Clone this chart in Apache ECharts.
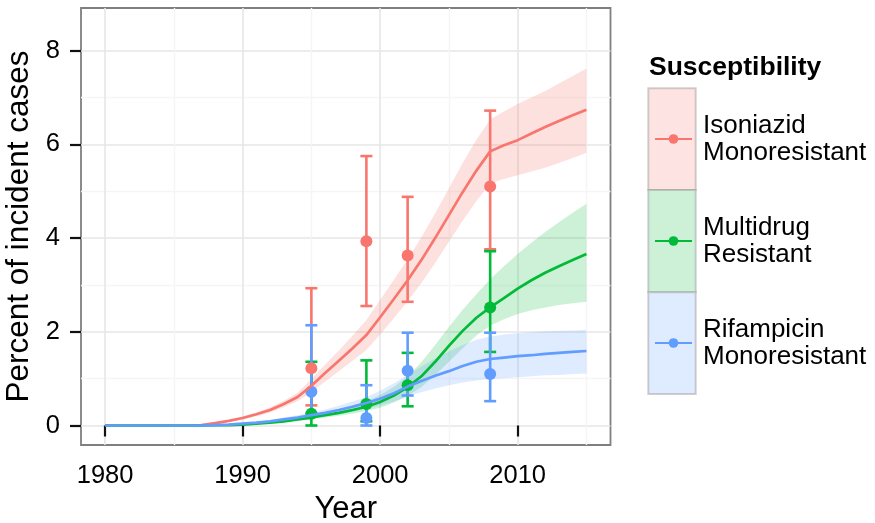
<!DOCTYPE html>
<html>
<head>
<meta charset="utf-8">
<script src="https://cdn.jsdelivr.net/npm/echarts@6/dist/echarts.min.js"></script>
<style>
  html, body { margin: 0; padding: 0; background: #ffffff; }
  #chart { width: 875px; height: 523px; }
</style>
</head>
<body>
<div id="chart"></div>
<script>
// ---- model fit (yearly), with 95% band ----
const modelYears = [1980, 1981, 1982, 1983, 1984, 1985, 1986, 1987, 1988, 1989,
  1990, 1991, 1992, 1993, 1994, 1995, 1996, 1997, 1998, 1999,
  2000, 2001, 2002, 2003, 2004, 2005, 2006, 2007, 2008, 2009,
  2010, 2011, 2012, 2013, 2014, 2015];

const isoniazidFit = [0, 0, 0, 0, 0, 0, 0, 0.01, 0.05, 0.10,
  0.16, 0.24, 0.33, 0.46, 0.61, 0.85, 1.12, 1.38, 1.65, 1.93,
  2.31, 2.70, 3.10, 3.53, 4.00, 4.49, 4.98, 5.44, 5.85, 5.98,
  6.09, 6.23, 6.37, 6.50, 6.62, 6.74];
const isoniazidLower = [0, 0, 0, 0, 0, 0, 0, 0, 0.04, 0.08,
  0.13, 0.20, 0.28, 0.39, 0.52, 0.71, 0.94, 1.16, 1.38, 1.61,
  1.94, 2.29, 2.65, 3.04, 3.47, 3.92, 4.37, 4.79, 5.17, 5.26,
  5.34, 5.42, 5.50, 5.60, 5.71, 5.82];
const isoniazidUpper = [0, 0, 0, 0, 0, 0, 0, 0.02, 0.06, 0.12,
  0.19, 0.28, 0.39, 0.53, 0.70, 0.99, 1.30, 1.60, 1.92, 2.25,
  2.68, 3.11, 3.55, 4.02, 4.53, 5.06, 5.60, 6.10, 6.53, 6.70,
  6.86, 7.00, 7.14, 7.30, 7.46, 7.62];

const multidrugFit = [0, 0, 0, 0, 0, 0, 0, 0, 0.005, 0.01,
  0.02, 0.04, 0.06, 0.09, 0.13, 0.17, 0.22, 0.27, 0.33, 0.40,
  0.50, 0.64, 0.82, 1.05, 1.36, 1.70, 2.02, 2.30, 2.52, 2.72,
  2.92, 3.10, 3.26, 3.40, 3.53, 3.66];
const multidrugLower = [0, 0, 0, 0, 0, 0, 0, 0, 0, 0.005,
  0.01, 0.03, 0.045, 0.07, 0.10, 0.13, 0.17, 0.21, 0.25, 0.31,
  0.38, 0.49, 0.63, 0.82, 1.08, 1.36, 1.65, 1.92, 2.13, 2.27,
  2.38, 2.46, 2.52, 2.57, 2.61, 2.64];
const multidrugUpper = [0, 0, 0, 0, 0, 0, 0, 0, 0.01, 0.02,
  0.03, 0.05, 0.08, 0.12, 0.17, 0.22, 0.28, 0.35, 0.43, 0.52,
  0.65, 0.82, 1.05, 1.35, 1.72, 2.10, 2.47, 2.80, 3.12, 3.40,
  3.66, 3.90, 4.13, 4.34, 4.54, 4.73];

const rifampicinFit = [0, 0, 0, 0, 0, 0, 0, 0, 0.01, 0.02,
  0.04, 0.06, 0.09, 0.13, 0.17, 0.22, 0.27, 0.33, 0.40, 0.48,
  0.57, 0.69, 0.83, 0.95, 1.06, 1.16, 1.27, 1.36, 1.42, 1.45,
  1.48, 1.50, 1.53, 1.55, 1.57, 1.59];
const rifampicinLower = [0, 0, 0, 0, 0, 0, 0, 0, 0, 0.01,
  0.03, 0.04, 0.06, 0.09, 0.12, 0.16, 0.20, 0.24, 0.29, 0.35,
  0.42, 0.51, 0.62, 0.71, 0.79, 0.86, 0.92, 0.96, 0.99, 1.01,
  1.03, 1.05, 1.07, 1.08, 1.10, 1.11];
const rifampicinUpper = [0, 0, 0, 0, 0, 0, 0, 0, 0.01, 0.03,
  0.05, 0.08, 0.12, 0.17, 0.22, 0.28, 0.34, 0.42, 0.51, 0.61,
  0.74, 0.90, 1.08, 1.26, 1.43, 1.58, 1.72, 1.83, 1.90, 1.94,
  1.97, 1.99, 2.01, 2.02, 2.03, 2.04];

// ---- survey estimates with confidence intervals ----
const surveyYears = [1995, 1999, 2002, 2008];
const isoniazidObs = [1.22, 3.93, 3.63, 5.10];
const isoniazidObsLow = [0.43, 2.55, 2.64, 3.76];
const isoniazidObsHigh = [2.93, 5.75, 4.88, 6.72];
const multidrugObs = [0.25, 0.46, 0.86, 2.52];
const multidrugObsLow = [0.00, 0.09, 0.41, 1.57];
const multidrugObsHigh = [1.36, 1.39, 1.55, 3.72];
const rifampicinObs = [0.72, 0.16, 1.17, 1.10];
const rifampicinObsLow = [0.26, 0.00, 0.64, 0.52];
const rifampicinObsHigh = [2.14, 0.86, 1.98, 1.98];

// ---- axes ----
const xTicks = [1980, 1990, 2000, 2010];
const xMinorTicks = [1985, 1995, 2005, 2015];
const yTicks = [0, 2, 4, 6, 8];
const yMinorTicks = [1, 3, 5, 7];

const groupNames = ['Isoniazid\nMonoresistant', 'Multidrug\nResistant', 'Rifampicin\nMonoresistant'];
const groupColors = ['#F8766D', '#00BA38', '#619CFF'];
const bandColors = ['rgba(248,118,109,0.22)', 'rgba(0,186,56,0.2)', 'rgba(97,156,255,0.2)'];

const FONT = "'Liberation Sans', Arial, Helvetica, sans-serif";

const groups = [
  { fit: isoniazidFit, lower: isoniazidLower, upper: isoniazidUpper,
    obs: isoniazidObs, low: isoniazidObsLow, high: isoniazidObsHigh },
  { fit: multidrugFit, lower: multidrugLower, upper: multidrugUpper,
    obs: multidrugObs, low: multidrugObsLow, high: multidrugObsHigh },
  { fit: rifampicinFit, lower: rifampicinLower, upper: rifampicinUpper,
    obs: rifampicinObs, low: rifampicinObsLow, high: rifampicinObsHigh }
];

const series = [];

// ribbons: one polygon per group, upper edge forward then lower edge back
groups.forEach((g, k) => {
  series.push({
    id: 'band' + k,
    type: 'custom',
    silent: true,
    data: modelYears.map((yr, i) => [yr, g.lower[i], g.upper[i]]),
    encode: { x: 0, y: [1, 2] },
    renderItem: function (params, api) {
      if (params.dataIndex !== 0) return null;
      const pts = [];
      for (let i = 0; i < modelYears.length; i++) pts.push(api.coord([modelYears[i], g.upper[i]]));
      for (let i = modelYears.length - 1; i >= 0; i--) pts.push(api.coord([modelYears[i], g.lower[i]]));
      return { type: 'polygon', shape: { points: pts }, style: { fill: bandColors[k], stroke: null } };
    }
  });
});

// fitted curves
groups.forEach((g, k) => {
  series.push({
    name: groupNames[k],
    type: 'line',
    data: modelYears.map((yr, i) => [yr, g.fit[i]]),
    symbol: 'none',
    color: groupColors[k],
    lineStyle: { width: 2.7, color: groupColors[k] },
    silent: true
  });
});

// error bars
groups.forEach((g, k) => {
  series.push({
    name: groupNames[k],
    type: 'custom',
    silent: true,
    data: surveyYears.map((yr, i) => [yr, g.low[i], g.high[i]]),
    encode: { x: 0, y: [1, 2] },
    renderItem: function (params, api) {
      const x = api.value(0);
      const top = api.coord([x, api.value(2)]);
      const bot = api.coord([x, api.value(1)]);
      const hw = 6;
      const st = { stroke: groupColors[k], lineWidth: 2.6 };
      return {
        type: 'group',
        children: [
          { type: 'line', shape: { x1: top[0], y1: top[1], x2: bot[0], y2: bot[1] }, style: st },
          { type: 'line', shape: { x1: top[0] - hw, y1: top[1], x2: top[0] + hw, y2: top[1] }, style: st },
          { type: 'line', shape: { x1: bot[0] - hw, y1: bot[1], x2: bot[0] + hw, y2: bot[1] }, style: st }
        ]
      };
    }
  });
});

// survey points
groups.forEach((g, k) => {
  series.push({
    name: groupNames[k],
    type: 'scatter',
    data: surveyYears.map((yr, i) => [yr, g.obs[i]]),
    symbol: 'circle',
    symbolSize: 12,
    itemStyle: { color: groupColors[k], opacity: 1 },
    silent: true
  });
});

const X_MIN = 1978.25, X_MAX = 2016.75;
const Y_MIN = -0.416, Y_MAX = 8.91;

const option = {
  animation: false,
  backgroundColor: '#ffffff',
  grid: {
    left: 81, right: 264.5, top: 8, bottom: 78,
    show: true, backgroundColor: '#ffffff',
    borderColor: '#7F7F7F', borderWidth: 1.8,
    containLabel: false, outerBoundsMode: 'none'
  },
  xAxis: [
    {
      type: 'value', min: X_MIN, max: X_MAX,
      name: 'Year', nameLocation: 'middle', nameGap: 41,
      nameTextStyle: { fontFamily: FONT, fontSize: 31, color: '#000' },
      axisLine: { show: false },
      axisTick: { show: true, length: 11, customValues: xTicks, lineStyle: { color: '#111', width: 2.2 } },
      axisLabel: { customValues: xTicks, margin: 18, fontFamily: FONT, fontSize: 25.5, color: '#000',
        formatter: v => String(v) },
      splitLine: { show: true, lineStyle: { color: '#E6E6E6', width: 1.6 } }
    },
    {
      type: 'value', min: X_MIN, max: X_MAX, position: 'bottom',
      axisLine: { show: false },
      axisTick: { show: false, customValues: xMinorTicks },
      axisLabel: { show: false, customValues: xMinorTicks },
      splitLine: { show: true, lineStyle: { color: '#F5F5F5', width: 1.4 } }
    }
  ],
  yAxis: [
    {
      type: 'value', min: Y_MIN, max: Y_MAX,
      name: 'Percent of incident cases', nameLocation: 'middle', nameGap: 40, nameRotate: 90,
      nameTextStyle: { fontFamily: FONT, fontSize: 31.5, color: '#000' },
      axisLine: { show: false },
      axisTick: { show: true, length: 11, customValues: yTicks, lineStyle: { color: '#111', width: 2.2 } },
      axisLabel: { customValues: yTicks, margin: 21, fontFamily: FONT, fontSize: 25.5, color: '#000',
        formatter: v => String(v) },
      splitLine: { show: true, lineStyle: { color: '#E6E6E6', width: 1.6 } }
    },
    {
      type: 'value', min: Y_MIN, max: Y_MAX, position: 'left',
      axisLine: { show: false },
      axisTick: { show: false, customValues: yMinorTicks },
      axisLabel: { show: false, customValues: yMinorTicks },
      splitLine: { show: true, lineStyle: { color: '#F5F5F5', width: 1.4 } }
    }
  ],
  legend: {
    orient: 'vertical',
    left: 654, top: 112,
    padding: 0,
    itemWidth: 37, itemHeight: 12, itemGap: 48,
    selectedMode: false,
    data: groupNames,
    textStyle: { fontFamily: FONT, fontSize: 26, lineHeight: 27, color: '#000', padding: [0, 0, 0, 6] }
  },
  graphic: {
    elements: [
      { type: 'text', x: 649, y: 67.5, z: 10,
        style: { text: 'Susceptibility', font: "bold 26.5px 'Liberation Sans', Arial, sans-serif",
          fill: '#000', verticalAlign: 'middle', align: 'left' } },
      { type: 'rect', z: 1, shape: { x: 648.3, y: 88.3, width: 47.4, height: 101.7 },
        style: { fill: '#FDE3E1', stroke: 'rgba(150,150,150,0.45)', lineWidth: 2 } },
      { type: 'rect', z: 1, shape: { x: 648.3, y: 190, width: 47.4, height: 102.3 },
        style: { fill: '#CCF1D7', stroke: 'rgba(150,150,150,0.45)', lineWidth: 2 } },
      { type: 'rect', z: 1, shape: { x: 648.3, y: 292.3, width: 47.4, height: 101.7 },
        style: { fill: '#DFEBFF', stroke: 'rgba(150,150,150,0.45)', lineWidth: 2 } }
    ]
  },
  series: series
};

const chart = echarts.init(document.getElementById('chart'), null, { renderer: 'canvas' });
chart.setOption(option);
</script>
</body>
</html>
